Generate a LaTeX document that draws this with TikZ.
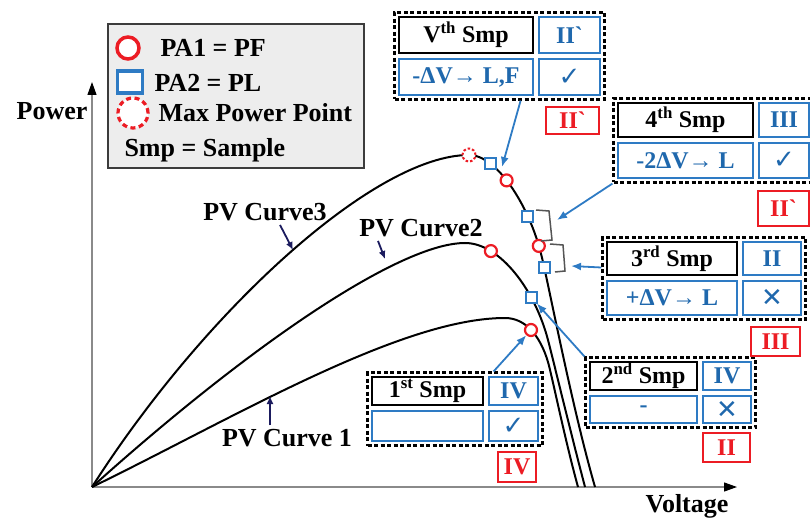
\documentclass[tikz,border=0pt]{standalone}
\usepackage{fontspec}
\setmainfont{Liberation Serif}
\newfontfamily\symfont{DejaVu Sans}
\usetikzlibrary{positioning,fit,backgrounds,arrows.meta}

\begin{document}
\begin{tikzpicture}[x=1pt,y=-1pt]
      \definecolor{red}{HTML}{EC1C24}
      \definecolor{blue}{HTML}{2E7BC4}
      \definecolor{darkblue}{HTML}{1F68AD}
      \definecolor{navy}{HTML}{1B1B5E}
      \definecolor{gray}{HTML}{EDEDED}
      \definecolor{darkgray}{HTML}{3C3C3C}
      \definecolor{bracegray}{HTML}{555555}
      \definecolor{axisgray}{HTML}{8A8A8A}

      \newcommand{\boxsep}[0]{4pt}
      \newcommand{\tabtext}[1]{\fontsize{24}{26}\selectfont\bfseries #1}
      \newcommand{\bigtext}[1]{\fontsize{26}{28}\selectfont\bfseries #1}
      \newcommand{\marktext}[1]{\fontsize{26}{28}\selectfont\symfont #1}

      \tikzstyle{namebox}   = [rectangle, draw=black, line width=2pt, fill=white, inner sep=0pt]
      \tikzstyle{bluebox}   = [rectangle, draw=blue, line width=2pt, fill=white, text=darkblue, inner sep=0pt]
      \tikzstyle{regionbox} = [rectangle, draw=red, line width=2pt, fill=white, text=red, inner sep=0pt]
      \tikzstyle{sample}    = [rectangle, draw=black, line width=2.2pt, dash pattern=on 4pt off 2.5pt, inner sep=3.5pt]
      \tikzstyle{pf}        = [circle, draw=red, line width=2.2pt, fill=white, minimum size=12pt, inner sep=0pt]
      \tikzstyle{pl}        = [rectangle, draw=blue, line width=2pt, fill=white, minimum size=11pt, inner sep=0pt]
      \tikzstyle{mpp}       = [circle, draw=red, line width=2pt, dash pattern=on 2.5pt off 2pt, fill=white, minimum size=13pt, inner sep=0pt]
      \tikzstyle{pvcurve}   = [line width=2pt]
      \tikzstyle{axis}      = [line width=1.2pt, draw=axisgray, -{Triangle[length=13pt, width=9pt, color=black]}]
      \tikzstyle{connector} = [line width=1.8pt, draw=blue, -{Latex[length=10pt, width=8pt]}]
      \tikzstyle{pointer}   = [line width=1.8pt, draw=navy, -{Latex[length=8pt, width=7pt]}]
      \tikzstyle{brace}     = [line width=1.5pt, draw=bracegray]

      \useasboundingbox (0,0) rectangle (810,518);

      % axes
      \coordinate (origin) at (92,487);
      \coordinate (ytop)   at (92,82);
      \coordinate (xend)   at (737,487);
      \draw [axis] (origin) -- (ytop);
      \draw [axis] (origin) -- (xend);
      \node [anchor=base] (ylabel) at (52,120) {\bigtext{Power}};
      \node [anchor=base] (xlabel) at (687,512) {\bigtext{Voltage}};

      % legend
      \node [rectangle, draw=darkgray, line width=2.5pt, fill=gray, minimum width=256pt, minimum height=144pt] (legend) at (236,96) {};
      \node [pf, minimum size=22pt, line width=3.5pt]  (legpf)  at (128,48) {};
      \node [pl, minimum width=25pt, minimum height=22pt, line width=3.5pt] (legpl) at (130,82) {};
      \node [mpp, minimum size=30pt, line width=3.2pt, dash pattern=on 5pt off 3.5pt] (legmpp) at (133,113) {};
      \node [anchor=base west] (legpftext)  at (157,57)  {\bigtext{PA1 = PF}};
      \node [anchor=base west] (legpltext)  at (151,92)  {\bigtext{PA2 = PL}};
      \node [anchor=base west] (legmpptext) at (155,122) {\bigtext{Max Power Point}};
      \node [anchor=base west] (legsmptext) at (121,157) {\bigtext{Smp = Sample}};

      % PV curves
      \draw [pvcurve] (origin) .. controls (205,310) and (375,155) .. (469,155)
                               .. controls (497,155) and (528,205) .. (540,250)
                               .. controls (546,270) and (570,400) .. (595,487);
      \draw [pvcurve] (origin) .. controls (250,345) and (400,243) .. (465,243)
                               .. controls (500,243) and (535,290) .. (548,340)
                               .. controls (553,359) and (570,430) .. (585,487);
      \draw [pvcurve] (origin) .. controls (230,420) and (400,318) .. (505,318)
                               .. controls (525,318) and (540,335) .. (548,362)
                               .. controls (552,376) and (565,440) .. (578,487);

      \node [anchor=base] (curve3label) at (265,221) {\bigtext{PV Curve3}};
      \node [anchor=base] (curve2label) at (421,237) {\bigtext{PV Curve2}};
      \node [anchor=base] (curve1label) at (287,446) {\bigtext{PV Curve 1}};

      \coordinate (curve3at) at (293,250);
      \coordinate (curve2at) at (385,259);
      \coordinate (curve1at) at (270,396);
      \draw [pointer] ([xshift=15pt]curve3label.south) -- (curve3at);
      \draw [pointer] ([xshift=-43pt]curve2label.south) -- (curve2at);
      \draw [pointer] ([xshift=-17pt]curve1label.north) -- (curve1at);

      % operating points
      \node [mpp] (c3mpp) at (469,155) {};
      \node [pl]  (c3pl1) at (490,163.5) {};
      \node [pf]  (c3pf1) at (506.6,180.4) {};
      \node [pl]  (c3pl2) at (527.8,216.2) {};
      \node [pf]  (c3pf2) at (538.8,245.9) {};
      \node [pl]  (c3pl3) at (544.2,267.4) {};
      \node [pf]  (c2pf)  at (490.9,251.1) {};
      \node [pl]  (c2pl)  at (531,297) {};
      \node [pf]  (c1pf)  at (531,330) {};

      \draw [brace] (536,210) -- (549,211) -- (552,240) -- (541,241);
      \draw [brace] (550,244) -- (563,245) -- (565,271) -- (555,272);
      \coordinate (vtip)    at (502,167);
      \coordinate (bra1tip) at (557,220);
      \coordinate (bra2tip) at (571,266);

      % samples
      \node [namebox, minimum width=134pt, minimum height=36pt] (vname) at (466,35) {\tabtext{V\textsuperscript{th} Smp}};
      \node [bluebox, minimum width=134pt, minimum height=36pt, below = \boxsep of vname]  (vdesc)  {\tabtext{-ΔV→ L,F}};
      \node [bluebox, minimum width=61pt,  minimum height=36pt, right = \boxsep of vname]  (vstate) {\tabtext{II\textasciigrave}};
      \node [bluebox, minimum width=61pt,  minimum height=36pt, below = \boxsep of vstate] (vmark)  {\marktext{✓}};
      \node [regionbox, minimum width=53pt, minimum height=27pt, below left = 10pt and 1pt of vmark.south east] (vregion) {\tabtext{II\textasciigrave}};

      \node [namebox, minimum width=135pt, minimum height=34pt] (fourname) at (685.5,120) {\tabtext{4\textsuperscript{th} Smp}};
      \node [bluebox, minimum width=135pt, minimum height=35pt, below = \boxsep of fourname]  (fourdesc)  {\tabtext{-2ΔV→ L}};
      \node [bluebox, minimum width=50pt,  minimum height=34pt, right = \boxsep of fourname]  (fourstate) {\tabtext{III}};
      \node [bluebox, minimum width=50pt,  minimum height=35pt, below = \boxsep of fourstate] (fourmark)  {\marktext{✓}};
      \node [regionbox, minimum width=51pt, minimum height=35pt, below left = 11pt and 0pt of fourmark.south east] (fourregion) {\tabtext{II\textasciigrave}};

      \node [namebox, minimum width=130pt, minimum height=33pt] (thirdname) at (672,258.5) {\tabtext{3\textsuperscript{rd} Smp}};
      \node [bluebox, minimum width=130pt, minimum height=34pt, below = \boxsep of thirdname]  (thirddesc)  {\tabtext{+ΔV→ L}};
      \node [bluebox, minimum width=58pt,  minimum height=33pt, right = \boxsep of thirdname]  (thirdstate) {\tabtext{II}};
      \node [bluebox, minimum width=58pt,  minimum height=34pt, below = \boxsep of thirdstate] (thirdmark)  {\marktext{✕}};
      \node [regionbox, minimum width=49pt, minimum height=29pt, below left = 10pt and 1pt of thirdmark.south east] (thirdregion) {\tabtext{III}};

      \node [namebox, minimum width=107pt, minimum height=28pt] (secname) at (643.5,376) {\tabtext{2\textsuperscript{nd} Smp}};
      \node [bluebox, minimum width=107pt, minimum height=27pt, below = \boxsep of secname]  (secdesc)  {\tabtext{-}};
      \node [bluebox, minimum width=48pt,  minimum height=28pt, right = \boxsep of secname]  (secstate) {\tabtext{IV}};
      \node [bluebox, minimum width=48pt,  minimum height=27pt, below = \boxsep of secstate] (secmark)  {\marktext{✕}};
      \node [regionbox, minimum width=47pt, minimum height=29pt, below left = 8pt and 1pt of secmark.south east] (secregion) {\tabtext{II}};

      \node [namebox, minimum width=111pt, minimum height=28pt] (firstname) at (427.5,391) {\tabtext{1\textsuperscript{st} Smp}};
      \node [bluebox, minimum width=111pt, minimum height=30pt, below = \boxsep of firstname]  (firstdesc)  {};
      \node [bluebox, minimum width=49pt,  minimum height=28pt, right = \boxsep of firstname]  (firststate) {\tabtext{IV}};
      \node [bluebox, minimum width=49pt,  minimum height=30pt, below = \boxsep of firststate] (firstmark)  {\marktext{✓}};
      \node [regionbox, minimum width=38pt, minimum height=30pt, below left = 9pt and 2pt of firstmark.south east] (firstregion) {\tabtext{IV}};

      \begin{scope}[on background layer]
        \node [sample, fit=(vname) (vdesc) (vstate) (vmark)]                     (vgrp)     {};
        \node [sample, fit=(fourname) (fourdesc) (fourstate) (fourmark)]         (fourgrp)  {};
        \node [sample, fit=(thirdname) (thirddesc) (thirdstate) (thirdmark)]     (thirdgrp) {};
        \node [sample, fit=(secname) (secdesc) (secstate) (secmark)]             (secgrp)   {};
        \node [sample, fit=(firstname) (firstdesc) (firststate) (firstmark)]     (firstgrp) {};
      \end{scope}

      \draw [connector] ([xshift=-85pt]vgrp.south east) -- (vtip);
      \draw [connector] (fourgrp.south west) -- (bra1tip);
      \draw [connector] ([yshift=11pt]thirdgrp.west) -- (bra2tip);
      \draw [connector] (secgrp.north west) -- (c2pl);
      \draw [connector] ([xshift=-50pt]firstgrp.north east) -- (c1pf);
    \end{tikzpicture}
\end{document}
